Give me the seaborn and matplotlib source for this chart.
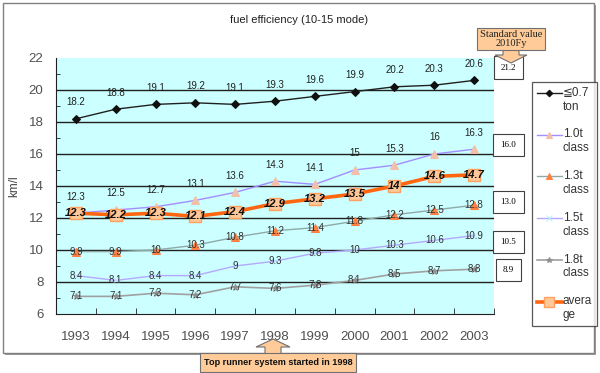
import numpy as np
import pandas as pd
import matplotlib
matplotlib.use("Agg")
import matplotlib.pyplot as plt
from matplotlib.patches import Rectangle, Polygon
from matplotlib.legend_handler import HandlerLine2D
import seaborn as sns

# ---------------- data ----------------
years = ["1993", "1994", "1995", "1996", "1997", "1998", "1999", "2000", "2001", "2002", "2003"]
le07 = [18.2, 18.8, 19.1, 19.2, 19.1, 19.3, 19.6, 19.9, 20.2, 20.3, 20.6]
c10 = [12.3, 12.5, 12.7, 13.1, 13.6, 14.3, 14.1, 15, 15.3, 16, 16.3]
c13 = [9.9, 9.9, 10, 10.3, 10.8, 11.2, 11.4, 11.8, 12.2, 12.5, 12.8]
c15 = [8.4, 8.1, 8.4, 8.4, 9, 9.3, 9.8, 10, 10.3, 10.6, 10.9]
c18 = [7.1, 7.1, 7.3, 7.2, 7.7, 7.6, 7.8, 8.1, 8.5, 8.7, 8.8]
avg = [12.3, 12.2, 12.3, 12.1, 12.4, 12.9, 13.2, 13.5, 14, 14.6, 14.7]
series_names = ["≦0.7\nton", "1.0t\nclass", "1.3t\nclass", "1.5t\nclass", "1.8t\nclass", "avera\nge"]
standard_values = [21.2, 16.0, 13.0, 10.5, 8.9]
standard_pos = [21.4, 16.55, 13.0, 10.5, 8.75]
title = "fuel efficiency (10-15 mode)"
ylabel = "km/l"
callout_top = "Standard value\n2010Fy"
callout_bottom = "Top runner system started in 1998"

W, H = 600, 373
SANS = ["Liberation Sans", "DejaVu Sans"]
SERIF = ["Liberation Serif", "DejaVu Serif"]

fig = plt.figure(figsize=(W / 100, H / 100), dpi=100)
fig.patch.set_facecolor("white")


def fx(px):
    return px / W


def fy(py):
    return 1 - py / H


# outer border with shadow
fig.patches.append(Rectangle((fx(5), fy(355)), fx(591), 350 / H, transform=fig.transFigure,
                             facecolor="#9a9a9a", edgecolor="none", zorder=-3))
fig.patches.append(Rectangle((fx(3), fy(353)), fx(591), 350 / H, transform=fig.transFigure,
                             facecolor="white", edgecolor="#808080", lw=1, zorder=-2))

ax = fig.add_axes([fx(56), fy(314), 438 / W, 256 / H])
ax.set_zorder(1)
ax.set_facecolor("#CCFFFF")

df = pd.DataFrame({"pos": np.arange(len(years)), "le07": le07, "c10": c10, "c13": c13,
                   "c15": c15, "c18": c18, "avg": avg})

styles = [
    ("le07", dict(color="#202020", lw=1.0, marker="D", markersize=4.2, markerfacecolor="#101010",
                  markeredgecolor="#101010")),
    ("c10", dict(color="#A58CFF", lw=1.0, marker="^", markersize=6, markerfacecolor="#F2C0A8",
                 markeredgecolor="#F2C0A8")),
    ("c13", dict(color="#8FA9A9", lw=1.0, marker="^", markersize=6, markerfacecolor="#FF8040",
                 markeredgecolor="#FF8040")),
    ("c15", dict(color="#B4A8FF", lw=1.0, marker="x", markersize=5, markerfacecolor="#BFEFFF",
                 markeredgecolor="#BFEFFF")),
    ("c18", dict(color="#A0A0A0", lw=1.2, marker="*", markersize=5, markerfacecolor="#909090",
                 markeredgecolor="#909090")),
    ("avg", dict(color="#FF6610", lw=2.6, marker="s", markersize=8.5, markerfacecolor="#FFC898",
                 markeredgecolor="#FFA060", markeredgewidth=1.0)),
]

for (col, kw), name in zip(styles, series_names):
    sns.lineplot(data=df, x="pos", y=col, ax=ax, label=name, legend=False, zorder=3, **kw)

# data labels
for i in range(len(years)):
    ax.annotate(f"{le07[i]:g}", (i, le07[i]), xytext=(0, 12), textcoords="offset points",
                ha="center", va="center", fontsize=7, family=SANS, color="#202020", zorder=5)
    ax.annotate(f"{c10[i]:g}", (i, c10[i]), xytext=(0, 12), textcoords="offset points",
                ha="center", va="center", fontsize=7, family=SANS, color="#202020", zorder=5)
    ax.text(i, c13[i], f"{c13[i]:g}", ha="center", va="center", fontsize=7, family=SANS,
            color="#303030", zorder=5)
    ax.text(i, c15[i], f"{c15[i]:g}", ha="center", va="center", fontsize=7, family=SANS,
            color="#303030", zorder=5)
    ax.text(i, c18[i], f"{c18[i]:g}", ha="center", va="center", fontsize=7, family=SANS,
            color="#303030", zorder=5)
    ax.text(i, avg[i], f"{avg[i]:g}", ha="center", va="center", fontsize=8, family=SANS,
            fontweight="bold", fontstyle="italic", color="#101010", zorder=6)

# axes formatting
ax.set_xlim(-0.5, len(years) - 0.5)
ax.set_ylim(6, 22)
ax.set_xticks(np.arange(len(years)))
ax.set_xticklabels(years, family=SANS, fontsize=9.5, color="#505050")
ax.set_xticks(np.arange(len(years) + 1) - 0.5, minor=True)
ax.set_yticks(np.arange(6, 23, 2))
ax.set_yticklabels([f"{v}" for v in range(6, 23, 2)], family=SANS, fontsize=9.5, color="#505050")
ax.set_yticks(np.arange(7, 22, 2), minor=True)
ax.tick_params(axis="x", which="major", length=0, pad=12)
ax.tick_params(axis="x", which="minor", length=4, direction="in", color="#202020")
ax.tick_params(axis="y", which="major", length=0, pad=9)
ax.tick_params(axis="y", which="minor", length=3, direction="in", color="#202020")
ax.set_xlabel("")
ax.set_ylabel(ylabel, family=SANS, fontsize=8.5, color="#444444")
ax.yaxis.set_label_coords(-(56 - 20) / 438, 0.5)
for yv in range(8, 21, 2):
    ax.axhline(yv, color="#202020", lw=1.0, zorder=1)
for s in ["top", "right"]:
    ax.spines[s].set_visible(False)
ax.spines["left"].set_color("#202020")
ax.spines["bottom"].set_color("#202020")
ax.grid(False)

# title
fig.text(fx(299), fy(20), title, ha="center", va="center", fontsize=8, family=SANS, color="#202020")

# standard value boxes
ann_off = (508.5 - 494) * 72 / 100
for v, p in zip(standard_values, standard_pos):
    ax.annotate(f"{v:.1f}", xy=(1, p), xycoords=("axes fraction", "data"), xytext=(ann_off, 0),
                textcoords="offset points", ha="center", va="center", fontsize=6.5, family=SERIF,
                annotation_clip=False,
                bbox=dict(boxstyle="square,pad=0.8", facecolor="white", edgecolor="#404040", lw=0.8))


# legend with handles aligned to first text line
class FirstLineHandler(HandlerLine2D):
    def create_artists(self, legend, orig_handle, xdescent, ydescent, width, height, fontsize, trans):
        return super().create_artists(legend, orig_handle, xdescent, ydescent - 1.2 * fontsize,
                                      width, height, fontsize, trans)


handles, labels = ax.get_legend_handles_labels()
leg = fig.legend(handles, labels, loc="upper left", bbox_to_anchor=(fx(532), fy(82)),
                 bbox_transform=fig.transFigure, frameon=True, fancybox=False, shadow=False,
                 prop={"family": SANS, "size": 8.5}, handlelength=2.1, handletextpad=0.1,
                 labelspacing=1.35, borderpad=0.4, borderaxespad=0, numpoints=1, markerscale=0.8,
                 handler_map={h: FirstLineHandler() for h in handles})
leg.get_frame().set_edgecolor("#303030")
leg.get_frame().set_linewidth(0.9)
for t in leg.get_texts():
    t.set_color("#333333")

# top callout
fig.patches.append(Polygon([(fx(503), fy(49)), (fx(519), fy(49)), (fx(519), fy(55)), (fx(527), fy(55)),
                            (fx(511), fy(63)), (fx(495), fy(55)), (fx(503), fy(55))],
                           closed=True, transform=fig.transFigure, facecolor="#FFCC99",
                           edgecolor="#707070", lw=0.8, zorder=3))
fig.text(fx(511), fy(39), callout_top, ha="center", va="center", fontsize=7.5, family=SERIF,
         linespacing=0.95, color="#202020", zorder=4,
         bbox=dict(boxstyle="square,pad=0.25", facecolor="#FFCC99", edgecolor="#707070", lw=0.8))

# bottom callout
fig.patches.append(Polygon([(fx(265), fy(355)), (fx(281), fy(355)), (fx(281), fy(347)), (fx(290), fy(347)),
                            (fx(273), fy(339)), (fx(256), fy(347)), (fx(265), fy(347))],
                           closed=True, transform=fig.transFigure, facecolor="#FFCC99",
                           edgecolor="#707070", lw=0.8, zorder=3))
fig.patches.append(Rectangle((fx(200), fy(372)), 156 / W, 19 / H, transform=fig.transFigure,
                             facecolor="#FFCC99", edgecolor="#707070", lw=0.8, zorder=3))
fig.text(fx(278), fy(362.5), callout_bottom, ha="center", va="center", fontsize=6.6, family=SANS,
         fontweight="bold", color="#101010", zorder=4)

fig.savefig("out.png", dpi=100)
